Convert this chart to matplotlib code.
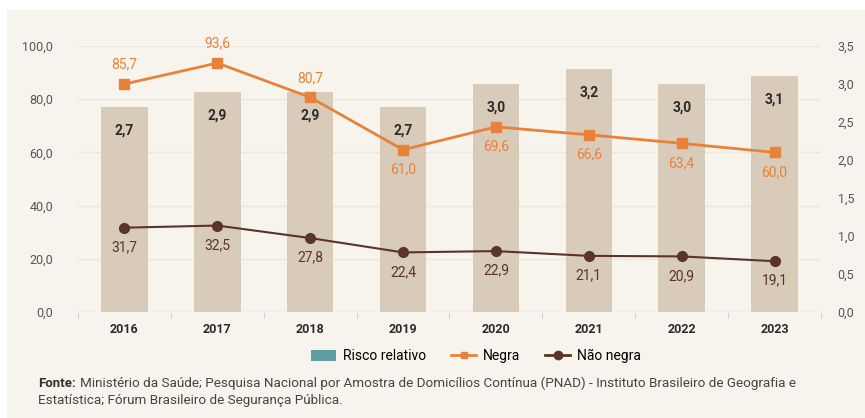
import matplotlib.pyplot as plt
from matplotlib.patches import Rectangle
from matplotlib.lines import Line2D
from matplotlib.patches import Patch

plt.rcParams['font.family'] = ['Liberation Sans Narrow', 'Roboto', 'DejaVu Sans']

years = ['2016', '2017', '2018', '2019', '2020', '2021', '2022', '2023']
risco = [2.7, 2.9, 2.9, 2.7, 3.0, 3.2, 3.0, 3.1]
negra = [85.7, 93.6, 80.7, 61.0, 69.6, 66.6, 63.4, 60.0]
nao_negra = [31.7, 32.5, 27.8, 22.4, 22.9, 21.1, 20.9, 19.1]

bg = '#f7f4ee'
bar_c = '#d8cbb9'
orange = '#e8823a'
brown = '#5a3428'
grey = '#555555'

def fmt(v):
    return f'{v:.1f}'.replace('.', ',')

fig = plt.figure(figsize=(8.65, 4.18), dpi=100, facecolor='white')
fig.patches.append(Rectangle((7 / 865, 0), 1, 1 - 10 / 418, transform=fig.transFigure,
                             facecolor=bg, edgecolor='none', zorder=-10))

ax = fig.add_axes([78 / 865, 1 - 312 / 418, 743 / 865, 266 / 418])
ax2 = ax.twinx()
ax.set_zorder(ax2.get_zorder() + 1)
ax.patch.set_visible(False)
ax2.patch.set_visible(False)

x = range(len(years))

# bars on the right axis
ax2.bar(x, risco, width=0.5, color=bar_c, zorder=1)
ax2.set_ylim(0, 3.5)
ax2.set_yticks([0, 0.5, 1, 1.5, 2, 2.5, 3, 3.5])
ax2.set_yticklabels([fmt(v) for v in ax2.get_yticks()])
for i, v in enumerate(risco):
    ax2.annotate(fmt(v), (i, v), xytext=(0, -17), textcoords='offset points',
                 ha='center', va='center', fontsize=10, fontweight='semibold', color='#2b2b2b')

ax.set_ylim(0, 100)
ax.set_xlim(-0.5, 7.5)
ax.set_yticks([0, 20, 40, 60, 80, 100])
ax.set_yticklabels([fmt(v) for v in ax.get_yticks()])
for g in [20, 40, 60, 80, 100]:
    ax2.axhline(g * 3.5 / 100, color='#ebe6de', lw=1, zorder=0)
ax2.axhline(0, color='#d5d0c8', lw=1, zorder=0)

ax.plot(x, negra, color=orange, lw=2, marker='s', ms=7, zorder=3)
ax.plot(x, nao_negra, color=brown, lw=1.5, marker='o', ms=7, zorder=3)

for i, v in enumerate(negra):
    off = 14 if i < 3 else -14
    ax.annotate(fmt(v), (i, v), xytext=(0, off), textcoords='offset points',
                ha='center', va='center', fontsize=10, color=orange)
for i, v in enumerate(nao_negra):
    ax.annotate(fmt(v), (i, v), xytext=(0, -14), textcoords='offset points',
                ha='center', va='center', fontsize=10, color=brown)

ax.set_xticks(list(x))
ax.set_xticklabels(years, fontsize=9, fontweight='bold', color='#2b2b2b')
ax.set_xticks([i - 0.5 for i in range(9)], minor=True)
ax.tick_params(axis='x', which='major', length=0, pad=8)
ax.tick_params(axis='x', which='minor', length=4, color='#cccccc')
ax.tick_params(axis='y', length=0, labelsize=9, labelcolor=grey, pad=18)
ax2.tick_params(axis='y', length=0, labelsize=9, labelcolor=grey, pad=12)
for a in (ax, ax2):
    for s in a.spines.values():
        s.set_visible(False)

handles = [
    Patch(facecolor='#5f9ea0', label='Risco relativo'),
    Line2D([], [], color=orange, lw=2, marker='s', ms=5, label='Negra'),
    Line2D([], [], color=brown, lw=2, marker='o', ms=6, label='Não negra'),
]
fig.legend(handles=handles, loc='center', bbox_to_anchor=(476 / 865, 1 - 356 / 418),
           ncol=3, frameon=False, fontsize=10, handlelength=1.8, columnspacing=1.8,
           handleheight=0.9, handletextpad=0.5)

fig.text(38 / 865, 1 - 387 / 418, 'Fonte:', fontsize=9.5, fontweight='bold', color='#333333',
         va='baseline')
fig.text(80 / 865, 1 - 387 / 418,
         'Ministério da Saúde; Pesquisa Nacional por Amostra de Domicílios Contínua (PNAD) - '
         'Instituto Brasileiro de Geografia e',
         fontsize=9.7, color='#444444', va='baseline')
fig.text(38 / 865, 1 - 404 / 418, 'Estatística; Fórum Brasileiro de Segurança Pública.',
         fontsize=9.7, color='#444444', va='baseline')

fig.savefig('out.png', dpi=100, facecolor='white')
